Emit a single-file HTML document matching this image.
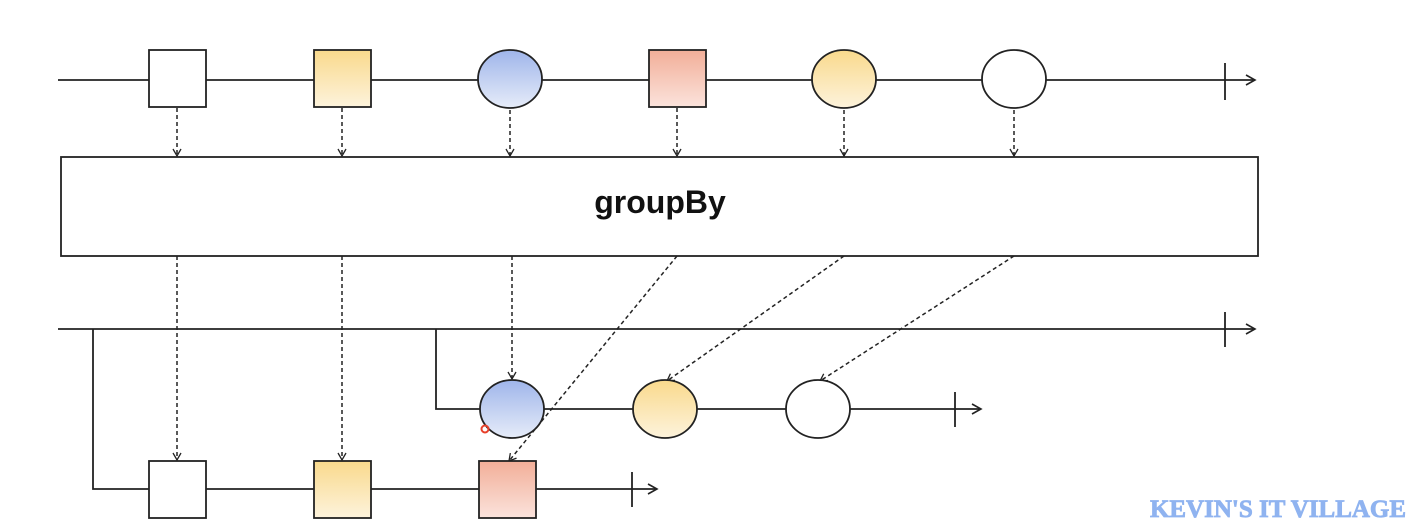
<!DOCTYPE html>
<html><head><meta charset="utf-8"><style>
html,body{margin:0;padding:0;background:#fff;}
svg{display:block}
</style></head><body>
<svg width="1428" height="532" viewBox="0 0 1428 532" xmlns="http://www.w3.org/2000/svg">
<defs>
<linearGradient id="gy" x1="0" y1="0" x2="0" y2="1"><stop offset="0" stop-color="#f9d98c"/><stop offset="1" stop-color="#fdf3dc"/></linearGradient>
<linearGradient id="gb" x1="0" y1="0" x2="0" y2="1"><stop offset="0" stop-color="#9fb5ea"/><stop offset="1" stop-color="#e6ecf9"/></linearGradient>
<linearGradient id="gr" x1="0" y1="0" x2="0" y2="1"><stop offset="0" stop-color="#f2ae98"/><stop offset="1" stop-color="#fbe3dc"/></linearGradient>
<marker id="ah" markerWidth="10" markerHeight="10" refX="8" refY="5" orient="auto" markerUnits="userSpaceOnUse"><path d="M1,1 L8,5 L1,9" fill="none" stroke="#222" stroke-width="1.3"/></marker>
<marker id="ahs" markerWidth="12" markerHeight="12" refX="10" refY="6" orient="auto" markerUnits="userSpaceOnUse"><path d="M1,1 L10,6 L1,11" fill="none" stroke="#222" stroke-width="1.6"/></marker>
</defs>
<g stroke="#222" stroke-width="1.8" fill="none">
<line x1="58" y1="80" x2="1255" y2="80" marker-end="url(#ahs)"/>
<line x1="1225" y1="63" x2="1225" y2="100"/>
<line x1="58" y1="329" x2="1255" y2="329" marker-end="url(#ahs)"/>
<line x1="1225" y1="312" x2="1225" y2="347"/>
<polyline points="93,329 93,489 657,489" marker-end="url(#ahs)"/>
<line x1="632" y1="472" x2="632" y2="507"/>
<polyline points="436,329 436,409 981,409" marker-end="url(#ahs)"/>
<line x1="955" y1="392" x2="955" y2="427"/>
</g>
<g stroke="#222" stroke-width="1.5" stroke-dasharray="4,3" fill="none">
<line x1="177" y1="108" x2="177" y2="156" marker-end="url(#ah)"/>
<line x1="342" y1="108" x2="342" y2="156" marker-end="url(#ah)"/>
<line x1="510" y1="110" x2="510" y2="156" marker-end="url(#ah)"/>
<line x1="677" y1="108" x2="677" y2="156" marker-end="url(#ah)"/>
<line x1="844" y1="110" x2="844" y2="156" marker-end="url(#ah)"/>
<line x1="1014" y1="110" x2="1014" y2="156" marker-end="url(#ah)"/>
<line x1="177" y1="256" x2="177" y2="460" marker-end="url(#ah)"/>
<line x1="342" y1="256" x2="342" y2="460" marker-end="url(#ah)"/>
<line x1="512" y1="256" x2="512" y2="379" marker-end="url(#ah)"/>
<line x1="677" y1="256" x2="509" y2="461" marker-end="url(#ah)"/>
<line x1="844" y1="256" x2="667" y2="381" marker-end="url(#ah)"/>
<line x1="1014" y1="256" x2="820" y2="381" marker-end="url(#ah)"/>
</g>
<g stroke="#222" stroke-width="1.8">
<rect x="149" y="50" width="57" height="57" fill="#fff"/>
<rect x="314" y="50" width="57" height="57" fill="url(#gy)"/>
<ellipse cx="510" cy="79" rx="32" ry="29" fill="url(#gb)"/>
<rect x="649" y="50" width="57" height="57" fill="url(#gr)"/>
<ellipse cx="844" cy="79" rx="32" ry="29" fill="url(#gy)"/>
<ellipse cx="1014" cy="79" rx="32" ry="29" fill="#fff"/>
<rect x="61" y="157" width="1197" height="99" fill="#fff"/>
<ellipse cx="512" cy="409" rx="32" ry="29" fill="url(#gb)"/>
<ellipse cx="665" cy="409" rx="32" ry="29" fill="url(#gy)"/>
<ellipse cx="818" cy="409" rx="32" ry="29" fill="#fff"/>
<rect x="149" y="461" width="57" height="57" fill="#fff"/>
<rect x="314" y="461" width="57" height="57" fill="url(#gy)"/>
<rect x="479" y="461" width="57" height="57" fill="url(#gr)"/>
</g>
<circle cx="485" cy="429" r="3.5" fill="none" stroke="#e8402a" stroke-width="2"/>
<text x="660" y="213" text-anchor="middle" font-family="Liberation Sans, sans-serif" font-weight="bold" font-size="32" fill="#111">groupBy</text>
<text x="1278" y="517" text-anchor="middle" font-family="Liberation Serif, serif" font-weight="bold" font-size="25" fill="#8fb3f0" stroke="#8fb3f0" stroke-width="0.8">KEVIN'S IT VILLAGE</text>
</svg>
</body></html>
